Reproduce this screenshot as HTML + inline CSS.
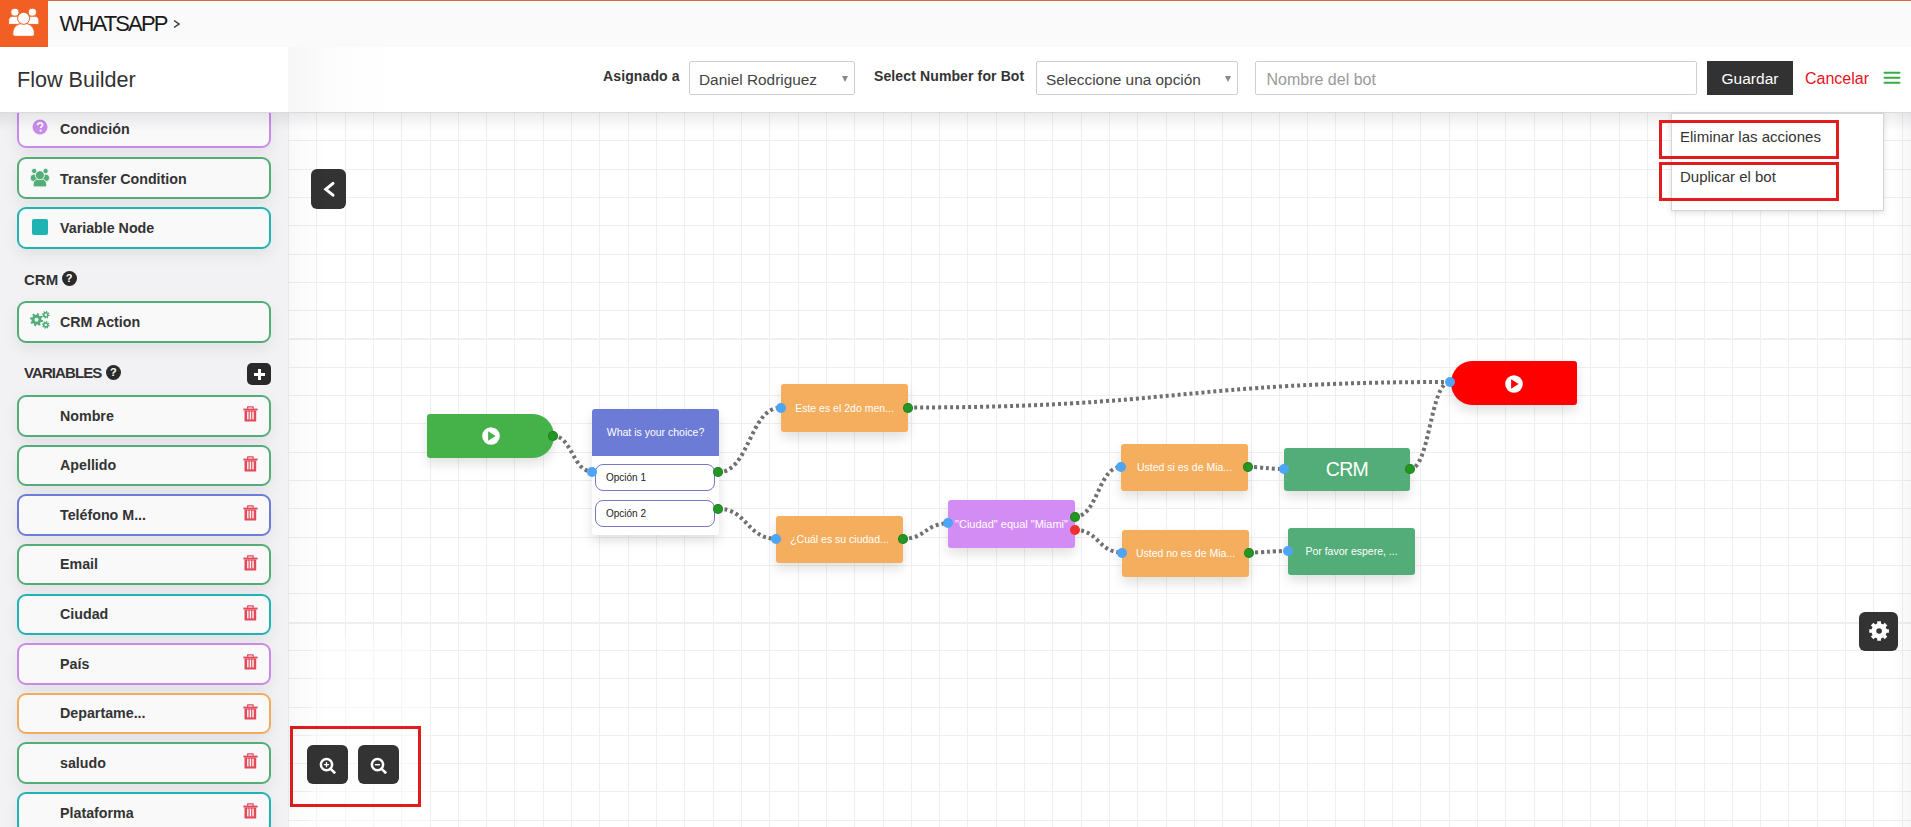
<!DOCTYPE html>
<html><head><meta charset="utf-8">
<style>
*{box-sizing:border-box;margin:0;padding:0}
html,body{width:1911px;height:827px;overflow:hidden;background:#fff;font-family:"Liberation Sans",sans-serif;position:relative}
.abs{position:absolute}
#topbar{left:0;top:0;width:1911px;height:47px;background:#fafafa;border-top:1px solid #e0673f}
#logo{left:0;top:0;width:48px;height:47px;background:#f25f24}
#wa{left:59.5px;top:11px;font-size:22px;color:#1a1a1a;letter-spacing:-1.85px;white-space:nowrap}
#hdr{left:0;top:47px;width:1911px;height:66px;background:linear-gradient(to right,#fff 288px,#f6f6f6 288px,#fdfdfd 340px,#fff 400px);border-bottom:1px solid #dadada;z-index:5}
#hsh{left:0;top:113px;width:1911px;height:18px;background:linear-gradient(rgba(0,0,30,.075),rgba(0,0,30,0));z-index:4}
#hdrl{left:0;top:47px;width:288px;height:64px;background:#fff;z-index:6}
#fb{left:17px;top:66.5px;font-size:21.6px;color:#333;white-space:nowrap;z-index:7}
.hz{z-index:7}
.lbl{font-size:14px;font-weight:700;color:#333;white-space:nowrap;letter-spacing:.12px}
.sel{border:1px solid #cfcfcf;background:#fff;height:34px;border-radius:2px}
.sel span{position:absolute;left:9px;top:8.5px;font-size:15.4px;color:#444;white-space:nowrap}
.sel i{position:absolute;right:6px;top:14px;width:0;height:0;border-left:3.5px solid transparent;border-right:3.5px solid transparent;border-top:6px solid #888}
#canvas{left:288px;top:112px;width:1623px;height:715px;background:#fff}
#side{overflow:hidden;left:0;top:112px;width:288px;height:715px;background:#f2f2f4;box-shadow:8px 0 40px rgba(0,0,0,.045);z-index:2}
.card{position:absolute;left:17px;width:254px;height:41.5px;border:2px solid #52ad78;border-radius:9px;background:#f9f9fa;box-shadow:0 6px 16px rgba(20,0,40,.07)}
.card .t{position:absolute;left:41px;top:10.5px;font-size:14.25px;font-weight:700;color:#333;white-space:nowrap}
.card .trash{position:absolute;left:224px;top:9px}
.node{position:absolute;box-shadow:0 6px 12px rgba(0,0,0,.12)}
.ntext{position:absolute;left:0;right:0;text-align:center;color:#fff;font-size:10.5px;white-space:nowrap}
.dot{position:absolute;width:10px;height:10px;border-radius:50%;margin:-5px 0 0 -5px}
.dg{background:#249624;box-shadow:inset 0 0 0 1px rgba(0,80,0,.25)}
.db{background:#4ea5f5}
.dr{background:#f0302f}
.help{width:15px;height:15px;border-radius:50%;background:#2a2a2a;color:#fff;font-size:11px;font-weight:700;text-align:center;line-height:15px}
.opt{width:120px;height:26.5px;border:1px solid #7479c8;border-radius:8px;background:#fff;font-size:10px;color:#222;padding:7px 0 0 10px;white-space:nowrap}
.btn{position:absolute;background:#333;border-radius:6px}
</style></head><body>
<div id="topbar" class="abs"></div>
<div id="logo" class="abs">
 <svg width="48" height="47" viewBox="0 0 48 47">
  <g fill="#fff" stroke="#f25f24" stroke-width="1">
   <circle cx="14.9" cy="12.3" r="4.1"/><circle cx="32.4" cy="12.3" r="4.1"/>
   <path d="M8.6 20.5c0-2.6 1.6-4.3 4-4.3h4c2.4 0 4 1.7 4 4.3v3.9H8.6z"/>
   <path d="M26.9 20.5c0-2.6 1.6-4.3 4-4.3h4c2.4 0 4 1.7 4 4.3v3.9H26.9z"/>
   <path d="M12.8 33.2c0-5.6 4-9.6 9-9.6h3.6c5 0 9 4 9 9.6v0.8c0 1.3-.9 2.3-2.2 2.3H15c-1.3 0-2.2-1-2.2-2.3z"/>
   <circle cx="23.6" cy="18.3" r="6"/>
  </g>
 </svg>
</div>
<div id="wa" class="abs">WHATSAPP</div>
<svg class="abs" style="left:172px;top:19px" width="10" height="10" viewBox="0 0 10 10"><path d="M2 1.5L7 5 2 8.5" stroke="#333" stroke-width="1.5" fill="none"/></svg>
<div id="hdr" class="abs"></div>
<div id="hsh" class="abs"></div>
<div id="fb" class="abs">Flow Builder</div>
<div class="abs lbl hz" style="left:603px;top:68px">Asignado a</div>
<div class="abs sel hz" style="left:689px;top:61px;width:166px"><span>Daniel Rodriguez</span><i></i></div>
<div class="abs lbl hz" style="left:874px;top:68px">Select Number for Bot</div>
<div class="abs sel hz" style="left:1036px;top:61px;width:202px"><span>Seleccione una opción</span><i></i></div>
<div class="abs sel hz" style="left:1255px;top:61px;width:442px"><span style="color:#9a9a9a;font-size:16px;top:9px;left:10.5px">Nombre del bot</span></div>
<div class="abs hz" style="left:1707px;top:61px;width:86px;height:34px;background:#323232;color:#fff;font-size:15.5px;text-align:center;line-height:35px">Guardar</div>
<div class="abs hz" style="left:1805px;top:70px;font-size:16px;color:#e8121b">Cancelar</div>
<svg class="abs hz" style="left:1880px;top:68px" width="24" height="20"><g stroke="#36ad46" stroke-width="2" stroke-linecap="round"><path d="M4.5 4.7H19.5M4.5 9.8H19.5M4.5 14.8H19.5"/></g></svg>
<div id="canvas" class="abs"></div>
<svg class="abs" style="left:0;top:0" width="1911" height="827"><g fill="#efefef"><rect x="288" y="112" width="1" height="715"/><rect x="316" y="112" width="1" height="715"/><rect x="345" y="112" width="1" height="715"/><rect x="373" y="112" width="1" height="715"/><rect x="401" y="112" width="1" height="715"/><rect x="430" y="112" width="1" height="715"/><rect x="458" y="112" width="1" height="715"/><rect x="486" y="112" width="1" height="715"/><rect x="514" y="112" width="1" height="715"/><rect x="543" y="112" width="1" height="715"/><rect x="571" y="112" width="1" height="715"/><rect x="599" y="112" width="1" height="715"/><rect x="628" y="112" width="1" height="715"/><rect x="656" y="112" width="1" height="715"/><rect x="684" y="112" width="1" height="715"/><rect x="713" y="112" width="1" height="715"/><rect x="741" y="112" width="1" height="715"/><rect x="769" y="112" width="1" height="715"/><rect x="798" y="112" width="1" height="715"/><rect x="826" y="112" width="1" height="715"/><rect x="854" y="112" width="1" height="715"/><rect x="883" y="112" width="1" height="715"/><rect x="911" y="112" width="1" height="715"/><rect x="939" y="112" width="1" height="715"/><rect x="967" y="112" width="1" height="715"/><rect x="996" y="112" width="1" height="715"/><rect x="1024" y="112" width="1" height="715"/><rect x="1052" y="112" width="1" height="715"/><rect x="1081" y="112" width="1" height="715"/><rect x="1109" y="112" width="1" height="715"/><rect x="1137" y="112" width="1" height="715"/><rect x="1166" y="112" width="1" height="715"/><rect x="1194" y="112" width="1" height="715"/><rect x="1222" y="112" width="1" height="715"/><rect x="1251" y="112" width="1" height="715"/><rect x="1279" y="112" width="1" height="715"/><rect x="1307" y="112" width="1" height="715"/><rect x="1335" y="112" width="1" height="715"/><rect x="1364" y="112" width="1" height="715"/><rect x="1392" y="112" width="1" height="715"/><rect x="1420" y="112" width="1" height="715"/><rect x="1449" y="112" width="1" height="715"/><rect x="1477" y="112" width="1" height="715"/><rect x="1505" y="112" width="1" height="715"/><rect x="1534" y="112" width="1" height="715"/><rect x="1562" y="112" width="1" height="715"/><rect x="1590" y="112" width="1" height="715"/><rect x="1619" y="112" width="1" height="715"/><rect x="1647" y="112" width="1" height="715"/><rect x="1675" y="112" width="1" height="715"/><rect x="1704" y="112" width="1" height="715"/><rect x="1732" y="112" width="1" height="715"/><rect x="1760" y="112" width="1" height="715"/><rect x="1788" y="112" width="1" height="715"/><rect x="1817" y="112" width="1" height="715"/><rect x="1845" y="112" width="1" height="715"/><rect x="1873" y="112" width="1" height="715"/><rect x="1902" y="112" width="1" height="715"/><rect x="288" y="112" width="1623" height="1"/><rect x="288" y="140" width="1623" height="1"/><rect x="288" y="169" width="1623" height="1"/><rect x="288" y="197" width="1623" height="1"/><rect x="288" y="225" width="1623" height="1"/><rect x="288" y="254" width="1623" height="1"/><rect x="288" y="282" width="1623" height="1"/><rect x="288" y="310" width="1623" height="1"/><rect x="288" y="338" width="1623" height="2"/><rect x="288" y="367" width="1623" height="1"/><rect x="288" y="395" width="1623" height="1"/><rect x="288" y="423" width="1623" height="1"/><rect x="288" y="452" width="1623" height="1"/><rect x="288" y="480" width="1623" height="1"/><rect x="288" y="508" width="1623" height="1"/><rect x="288" y="537" width="1623" height="1"/><rect x="288" y="565" width="1623" height="1"/><rect x="288" y="593" width="1623" height="1"/><rect x="288" y="622" width="1623" height="2"/><rect x="288" y="650" width="1623" height="1"/><rect x="288" y="678" width="1623" height="1"/><rect x="288" y="707" width="1623" height="1"/><rect x="288" y="735" width="1623" height="1"/><rect x="288" y="763" width="1623" height="1"/><rect x="288" y="791" width="1623" height="1"/><rect x="288" y="820" width="1623" height="1"/></g></svg>
<div id="side" class="abs"><div class="card" style="top:-6.0px;border-color:#c98bea"><svg class="abs" style="left:12.7px;top:10.5px" width="16" height="16" viewBox="0 0 16 16"><circle cx="8" cy="8" r="7.5" fill="#c98bea"/><path d="M5.6 6.2c0-1.5 1.1-2.4 2.5-2.4s2.4.9 2.4 2.1c0 1.6-1.8 1.7-1.8 3" stroke="#fafafa" stroke-width="1.8" fill="none"/><circle cx="8.6" cy="11.7" r="1.1" fill="#fafafa"/></svg><div class="t" style="top:13.0px">Condición</div></div>
<div class="card" style="top:45.4px;border-color:#52ad78"><svg class="abs" style="left:11px;top:8.5px" width="21" height="21" viewBox="0 0 21 21"><g fill="#52ad78" stroke="#f9f9fa" stroke-width="0.9"><circle cx="4.2" cy="3" r="2.7"/><circle cx="15.6" cy="3" r="2.7"/><rect x="0.3" y="6.2" width="7.2" height="7.3" rx="3.2"/><rect x="12.3" y="6.2" width="7.2" height="7.3" rx="3.2"/><path d="M3.2 16.2c0-3.3 2.4-5.2 5-5.2h3.4c2.6 0 5 1.9 5 5.2v1.3c0 .9-.6 1.4-1.4 1.4H4.6c-.8 0-1.4-.5-1.4-1.4z"/><circle cx="9.9" cy="7.2" r="4.5"/></g></svg><div class="t" style="top:11.5px">Transfer Condition</div></div>
<div class="card" style="top:95.0px;border-color:#1fb3b3"><div class="abs" style="left:13px;top:10px;width:16px;height:16px;background:#1fb3b3;border-radius:2px"></div><div class="t" style="top:10.8px">Variable Node</div></div>
<div class="card" style="top:189.4px;border-color:#52ad78"><svg class="abs" style="left:11px;top:6px" width="24" height="24" viewBox="0 0 24 24"><path fill="#52ad78" fill-rule="evenodd" d="M11.40 10.70 L13.07 11.32 L12.60 13.23 L10.83 12.99 L9.96 14.16 L10.71 15.79 L9.03 16.80 L7.94 15.38 L6.50 15.60 L5.88 17.27 L3.97 16.80 L4.21 15.03 L3.04 14.16 L1.41 14.91 L0.40 13.23 L1.82 12.14 L1.60 10.70 L-0.07 10.08 L0.40 8.17 L2.17 8.41 L3.04 7.24 L2.29 5.61 L3.97 4.60 L5.06 6.02 L6.50 5.80 L7.12 4.13 L9.03 4.60 L8.79 6.37 L9.96 7.24 L11.59 6.49 L12.60 8.17 L11.18 9.26Z M8.50 10.70 A2.0 2.0 0 1 0 4.50 10.70 A2.0 2.0 0 1 0 8.50 10.70Z M18.60 5.80 L19.68 6.17 L19.40 7.29 L18.27 7.11 L17.78 7.78 L18.29 8.81 L17.29 9.40 L16.62 8.48 L15.80 8.60 L15.43 9.68 L14.31 9.40 L14.49 8.27 L13.82 7.78 L12.79 8.29 L12.20 7.29 L13.12 6.62 L13.00 5.80 L11.92 5.43 L12.20 4.31 L13.33 4.49 L13.82 3.82 L13.31 2.79 L14.31 2.20 L14.98 3.12 L15.80 3.00 L16.17 1.92 L17.29 2.20 L17.11 3.33 L17.78 3.82 L18.81 3.31 L19.40 4.31 L18.48 4.98Z M17.00 5.80 A1.2 1.2 0 1 0 14.60 5.80 A1.2 1.2 0 1 0 17.00 5.80Z M18.60 15.90 L19.68 16.27 L19.40 17.39 L18.27 17.21 L17.78 17.88 L18.29 18.91 L17.29 19.50 L16.62 18.58 L15.80 18.70 L15.43 19.78 L14.31 19.50 L14.49 18.37 L13.82 17.88 L12.79 18.39 L12.20 17.39 L13.12 16.72 L13.00 15.90 L11.92 15.53 L12.20 14.41 L13.33 14.59 L13.82 13.92 L13.31 12.89 L14.31 12.30 L14.98 13.22 L15.80 13.10 L16.17 12.02 L17.29 12.30 L17.11 13.43 L17.78 13.92 L18.81 13.41 L19.40 14.41 L18.48 15.08Z M17.00 15.90 A1.2 1.2 0 1 0 14.60 15.90 A1.2 1.2 0 1 0 17.00 15.90Z"/></svg><div class="t" style="top:10.9px">CRM Action</div></div>
<div class="abs" style="left:24px;top:158.5px;font-size:15px;font-weight:700;color:#333">CRM</div>
<div class="abs help" style="left:61.5px;top:159px">?</div>
<div class="abs" style="left:24px;top:252px;font-size:15px;font-weight:700;color:#333;letter-spacing:-0.9px">VARIABLES</div>
<div class="abs help" style="left:105.8px;top:252.5px">?</div>
<div class="abs" style="left:247px;top:251px;width:24px;height:22px;background:#2a2a2a;border-radius:5px"><div class="abs" style="left:6.5px;top:9.5px;width:11px;height:3px;background:#fff"></div><div class="abs" style="left:10.5px;top:5.5px;width:3px;height:11px;background:#fff"></div></div>
<div class="card" style="top:283.0px;border-color:#52ad78"><div class="t">Nombre</div><svg class="trash" width="15" height="16" viewBox="0 0 15 16"><g fill="#e24a5b"><path fill-rule="evenodd" d="M4 1.3C4 .7 4.4.3 5 .3h4.8c.6 0 1 .4 1 1v1.5H4zM5.3 1.4v1.3h4.2V1.4z"/><rect x="0.4" y="2.6" width="14.2" height="1.9"/><rect x="1.5" y="4.4" width="11.7" height="11.2" rx="0.6"/></g><g fill="#f9f9fa"><rect x="4.1" y="5.6" width="1.4" height="7.8"/><rect x="6.7" y="5.6" width="1.4" height="7.8"/><rect x="9.3" y="5.6" width="1.4" height="7.8"/></g></svg></div>
<div class="card" style="top:332.6px;border-color:#52ad78"><div class="t">Apellido</div><svg class="trash" width="15" height="16" viewBox="0 0 15 16"><g fill="#e24a5b"><path fill-rule="evenodd" d="M4 1.3C4 .7 4.4.3 5 .3h4.8c.6 0 1 .4 1 1v1.5H4zM5.3 1.4v1.3h4.2V1.4z"/><rect x="0.4" y="2.6" width="14.2" height="1.9"/><rect x="1.5" y="4.4" width="11.7" height="11.2" rx="0.6"/></g><g fill="#f9f9fa"><rect x="4.1" y="5.6" width="1.4" height="7.8"/><rect x="6.7" y="5.6" width="1.4" height="7.8"/><rect x="9.3" y="5.6" width="1.4" height="7.8"/></g></svg></div>
<div class="card" style="top:382.3px;border-color:#6f7bd8"><div class="t">Teléfono M...</div><svg class="trash" width="15" height="16" viewBox="0 0 15 16"><g fill="#e24a5b"><path fill-rule="evenodd" d="M4 1.3C4 .7 4.4.3 5 .3h4.8c.6 0 1 .4 1 1v1.5H4zM5.3 1.4v1.3h4.2V1.4z"/><rect x="0.4" y="2.6" width="14.2" height="1.9"/><rect x="1.5" y="4.4" width="11.7" height="11.2" rx="0.6"/></g><g fill="#f9f9fa"><rect x="4.1" y="5.6" width="1.4" height="7.8"/><rect x="6.7" y="5.6" width="1.4" height="7.8"/><rect x="9.3" y="5.6" width="1.4" height="7.8"/></g></svg></div>
<div class="card" style="top:431.9px;border-color:#52ad78"><div class="t">Email</div><svg class="trash" width="15" height="16" viewBox="0 0 15 16"><g fill="#e24a5b"><path fill-rule="evenodd" d="M4 1.3C4 .7 4.4.3 5 .3h4.8c.6 0 1 .4 1 1v1.5H4zM5.3 1.4v1.3h4.2V1.4z"/><rect x="0.4" y="2.6" width="14.2" height="1.9"/><rect x="1.5" y="4.4" width="11.7" height="11.2" rx="0.6"/></g><g fill="#f9f9fa"><rect x="4.1" y="5.6" width="1.4" height="7.8"/><rect x="6.7" y="5.6" width="1.4" height="7.8"/><rect x="9.3" y="5.6" width="1.4" height="7.8"/></g></svg></div>
<div class="card" style="top:481.5px;border-color:#1fb3b3"><div class="t">Ciudad</div><svg class="trash" width="15" height="16" viewBox="0 0 15 16"><g fill="#e24a5b"><path fill-rule="evenodd" d="M4 1.3C4 .7 4.4.3 5 .3h4.8c.6 0 1 .4 1 1v1.5H4zM5.3 1.4v1.3h4.2V1.4z"/><rect x="0.4" y="2.6" width="14.2" height="1.9"/><rect x="1.5" y="4.4" width="11.7" height="11.2" rx="0.6"/></g><g fill="#f9f9fa"><rect x="4.1" y="5.6" width="1.4" height="7.8"/><rect x="6.7" y="5.6" width="1.4" height="7.8"/><rect x="9.3" y="5.6" width="1.4" height="7.8"/></g></svg></div>
<div class="card" style="top:531.1px;border-color:#c98bea"><div class="t">País</div><svg class="trash" width="15" height="16" viewBox="0 0 15 16"><g fill="#e24a5b"><path fill-rule="evenodd" d="M4 1.3C4 .7 4.4.3 5 .3h4.8c.6 0 1 .4 1 1v1.5H4zM5.3 1.4v1.3h4.2V1.4z"/><rect x="0.4" y="2.6" width="14.2" height="1.9"/><rect x="1.5" y="4.4" width="11.7" height="11.2" rx="0.6"/></g><g fill="#f9f9fa"><rect x="4.1" y="5.6" width="1.4" height="7.8"/><rect x="6.7" y="5.6" width="1.4" height="7.8"/><rect x="9.3" y="5.6" width="1.4" height="7.8"/></g></svg></div>
<div class="card" style="top:580.8px;border-color:#f1ad5e"><div class="t">Departame...</div><svg class="trash" width="15" height="16" viewBox="0 0 15 16"><g fill="#e24a5b"><path fill-rule="evenodd" d="M4 1.3C4 .7 4.4.3 5 .3h4.8c.6 0 1 .4 1 1v1.5H4zM5.3 1.4v1.3h4.2V1.4z"/><rect x="0.4" y="2.6" width="14.2" height="1.9"/><rect x="1.5" y="4.4" width="11.7" height="11.2" rx="0.6"/></g><g fill="#f9f9fa"><rect x="4.1" y="5.6" width="1.4" height="7.8"/><rect x="6.7" y="5.6" width="1.4" height="7.8"/><rect x="9.3" y="5.6" width="1.4" height="7.8"/></g></svg></div>
<div class="card" style="top:630.4px;border-color:#52ad78"><div class="t">saludo</div><svg class="trash" width="15" height="16" viewBox="0 0 15 16"><g fill="#e24a5b"><path fill-rule="evenodd" d="M4 1.3C4 .7 4.4.3 5 .3h4.8c.6 0 1 .4 1 1v1.5H4zM5.3 1.4v1.3h4.2V1.4z"/><rect x="0.4" y="2.6" width="14.2" height="1.9"/><rect x="1.5" y="4.4" width="11.7" height="11.2" rx="0.6"/></g><g fill="#f9f9fa"><rect x="4.1" y="5.6" width="1.4" height="7.8"/><rect x="6.7" y="5.6" width="1.4" height="7.8"/><rect x="9.3" y="5.6" width="1.4" height="7.8"/></g></svg></div>
<div class="card" style="top:680.0px;border-color:#1fb3b3"><div class="t">Plataforma</div><svg class="trash" width="15" height="16" viewBox="0 0 15 16"><g fill="#e24a5b"><path fill-rule="evenodd" d="M4 1.3C4 .7 4.4.3 5 .3h4.8c.6 0 1 .4 1 1v1.5H4zM5.3 1.4v1.3h4.2V1.4z"/><rect x="0.4" y="2.6" width="14.2" height="1.9"/><rect x="1.5" y="4.4" width="11.7" height="11.2" rx="0.6"/></g><g fill="#f9f9fa"><rect x="4.1" y="5.6" width="1.4" height="7.8"/><rect x="6.7" y="5.6" width="1.4" height="7.8"/><rect x="9.3" y="5.6" width="1.4" height="7.8"/></g></svg></div></div>
<div class="node" style="left:427px;top:414px;width:127px;height:44px;background:#44b149;border-radius:3px 21px 21px 3px / 3px 22px 22px 3px"></div>
<svg class="abs" style="left:481px;top:426px" width="20" height="20" viewBox="0 0 20 20"><circle cx="10" cy="10" r="8.8" fill="#fff"/><path d="M7.1 5.2L14.6 10 7.1 14.8z" fill="#44b149"/></svg>
<div class="node" style="left:1450.5px;top:361px;width:126px;height:43.5px;background:#fe0000;border-radius:21px 3px 3px 21px / 22px 3px 3px 22px"></div>
<svg class="abs" style="left:1504px;top:373.5px" width="20" height="20" viewBox="0 0 20 20"><circle cx="10" cy="10" r="8.8" fill="#fff"/><path d="M7.1 5.2L14.6 10 7.1 14.8z" fill="#fe0000"/></svg>
<div class="node" style="left:592px;top:409px;width:127px;height:126px;background:#fff;border-radius:3px"><div class="abs" style="left:0;top:0;width:127px;height:46.5px;background:#6b7bd6;border-radius:3px 3px 0 0"></div><div class="ntext" style="top:17px">What is your choice?</div><div class="abs opt" style="left:3px;top:55px">Opción 1</div><div class="abs opt" style="left:3px;top:91px">Opción 2</div></div>
<div class="node" style="left:781px;top:384px;width:127.0px;height:48.0px;background:#f4ae5e;border-radius:3px"><div class="ntext" style="top:17.9px;font-size:10.5px;">Este es el 2do men...</div></div>
<div class="node" style="left:776px;top:516px;width:127.0px;height:47.0px;background:#f4ae5e;border-radius:3px"><div class="ntext" style="top:17.4px;font-size:10.5px;">¿Cuál es su ciudad...</div></div>
<div class="node" style="left:948px;top:500px;width:127.0px;height:48.0px;background:#d48cf5;border-radius:3px"><div class="ntext" style="top:17.6px;font-size:11px;">"Ciudad" equal "Miami"</div></div>
<div class="node" style="left:1121px;top:444px;width:127.0px;height:47.0px;background:#f4ae5e;border-radius:3px"><div class="ntext" style="top:17.4px;font-size:10.5px;">Usted si es de Mia...</div></div>
<div class="node" style="left:1122px;top:529.5px;width:127.0px;height:47.5px;background:#f4ae5e;border-radius:3px"><div class="ntext" style="top:17.7px;font-size:10.5px;">Usted no es de Mia...</div></div>
<div class="node" style="left:1284px;top:448px;width:126.0px;height:43.0px;background:#52ad78;border-radius:3px"><div class="ntext" style="top:10.2px;font-size:19.5px;letter-spacing:-0.7px">CRM</div></div>
<div class="node" style="left:1288px;top:528px;width:127.0px;height:47.0px;background:#52ad78;border-radius:3px"><div class="ntext" style="top:17.4px;font-size:10.5px;">Por favor espere, ...</div></div>
<svg class="abs" style="left:0;top:0" width="1911" height="827"><g fill="none" stroke="#707070" stroke-width="4" stroke-dasharray="3 3"><path d="M553 436 C572.5 436 572.5 471.5 592 471.5"/><path d="M718.3 472.3 C749.6 472.3 749.6 407.5 781 407.5"/><path d="M718.3 508.8 C747.1 508.8 747.1 538.8 776 538.8"/><path d="M908 407.5 C1179.0 407.5 1179.0 382 1450 382"/><path d="M903 538.8 C925.5 538.8 925.5 523.4 948 523.4"/><path d="M1075 516.6 C1098.0 516.6 1098.0 467 1121 467"/><path d="M1075 530 C1098.5 530 1098.5 552.5 1122 552.5"/><path d="M1248 467 C1266.0 467 1266.0 469 1284 469"/><path d="M1249 552.5 C1268.5 552.5 1268.5 551 1288 551"/><path d="M1410 469 C1430.0 469 1430.0 382 1450 382"/></g></svg>
<div class="dot dg" style="left:553.4px;top:435.9px"></div>
<div class="dot db" style="left:591.8px;top:471.5px"></div>
<div class="dot dg" style="left:718.3px;top:472.3px"></div>
<div class="dot dg" style="left:718.3px;top:508.8px"></div>
<div class="dot db" style="left:781px;top:407.5px"></div>
<div class="dot dg" style="left:908px;top:407.5px"></div>
<div class="dot db" style="left:776px;top:538.8px"></div>
<div class="dot dg" style="left:903px;top:538.8px"></div>
<div class="dot db" style="left:948px;top:523.4px"></div>
<div class="dot dg" style="left:1075px;top:516.6px"></div>
<div class="dot dr" style="left:1075px;top:530px"></div>
<div class="dot db" style="left:1121px;top:467px"></div>
<div class="dot dg" style="left:1248px;top:467px"></div>
<div class="dot db" style="left:1122px;top:552.5px"></div>
<div class="dot dg" style="left:1249px;top:552.5px"></div>
<div class="dot db" style="left:1284px;top:469px"></div>
<div class="dot dg" style="left:1410px;top:469px"></div>
<div class="dot db" style="left:1288px;top:551px"></div>
<div class="dot db" style="left:1450px;top:382px"></div>
<div class="abs" style="left:311px;top:637px;width:118px;height:190px;background:rgba(255,255,255,.45)"></div>
<div class="abs" style="left:1893px;top:112px;width:18px;height:715px;background:linear-gradient(to right,rgba(0,0,0,0),rgba(0,0,0,.035))"></div>
<div class="btn" style="left:311px;top:169px;width:35px;height:40px"><svg class="abs" style="left:10px;top:12px" width="16" height="17" viewBox="0 0 16 17"><path d="M12 2.4L4.8 8.3 12 14.2" stroke="#fff" stroke-width="3" fill="none" stroke-linecap="round" stroke-linejoin="miter"/></svg></div>
<div class="btn" style="left:306.5px;top:745px;width:41px;height:39px"><svg class="abs" style="left:12px;top:11.5px" width="17" height="17" viewBox="0 0 17 17"><circle cx="7.5" cy="7.7" r="5.6" stroke="#fff" stroke-width="2.5" fill="none"/><path d="M11.6 11.8l3.6 3.6" stroke="#fff" stroke-width="2.6" stroke-linecap="square"/><path d="M4.9 7.7h5.2M7.5 5.1v5.2" stroke="#fff" stroke-width="1.3"/></svg></div>
<div class="btn" style="left:357.5px;top:745px;width:41px;height:39px"><svg class="abs" style="left:12px;top:11.5px" width="17" height="17" viewBox="0 0 17 17"><circle cx="7.5" cy="7.7" r="5.6" stroke="#fff" stroke-width="2.5" fill="none"/><path d="M11.6 11.8l3.6 3.6" stroke="#fff" stroke-width="2.6" stroke-linecap="square"/><path d="M4.9 7.7h5.2" stroke="#fff" stroke-width="1.5"/></svg></div>
<div class="abs" style="left:290px;top:726px;width:131px;height:81px;border:3px solid #e21c1c"></div>
<div class="btn" style="left:1859px;top:612px;width:39px;height:39px"><svg class="abs" style="left:9.5px;top:8.8px" width="22" height="22" viewBox="0 0 22 22"><path fill="#fff" fill-rule="evenodd" d="M17.57 8.14 L19.92 8.13 L19.92 11.87 L17.57 11.86 L16.70 13.97 L18.37 15.62 L15.72 18.27 L14.07 16.60 L11.96 17.47 L11.97 19.82 L8.23 19.82 L8.24 17.47 L6.13 16.60 L4.48 18.27 L1.83 15.62 L3.50 13.97 L2.63 11.86 L0.28 11.87 L0.28 8.13 L2.63 8.14 L3.50 6.03 L1.83 4.38 L4.48 1.73 L6.13 3.40 L8.24 2.53 L8.23 0.18 L11.97 0.18 L11.96 2.53 L14.07 3.40 L15.72 1.73 L18.37 4.38 L16.70 6.03Z M12.90 10.00 A2.8 2.8 0 1 0 7.30 10.00 A2.8 2.8 0 1 0 12.90 10.00Z"/></svg></div>
<div class="abs" style="left:1671px;top:113px;width:213px;height:98px;background:#fff;border:1px solid #d5d5d5;box-shadow:0 2px 6px rgba(0,0,0,.12);z-index:8"></div>
<div class="abs" style="left:1680px;top:128px;font-size:15px;color:#333;white-space:nowrap;z-index:9">Eliminar las acciones</div>
<div class="abs" style="left:1680px;top:168px;font-size:15px;color:#333;white-space:nowrap;z-index:9">Duplicar el bot</div>
<div class="abs" style="left:1659px;top:120px;width:180px;height:39px;border:3px solid #e21c1c;z-index:9"></div>
<div class="abs" style="left:1659px;top:162px;width:180px;height:39px;border:3px solid #e21c1c;z-index:9"></div>
</body></html>
